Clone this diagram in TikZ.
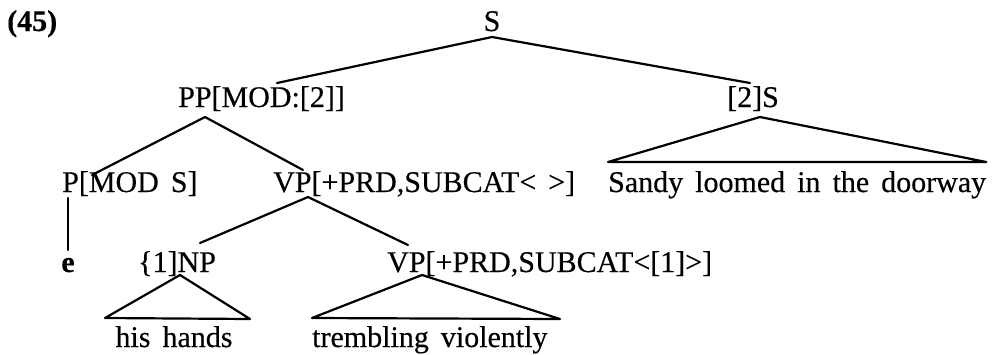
\documentclass[tikz,border=0pt]{standalone}
\usepackage{fontspec}
\setmainfont{Liberation Serif}[WordSpace=1.6,FakeBold=0.35]
\begin{document}
\begin{tikzpicture}[x=1pt,y=-1pt,
  lab/.style={inner sep=0pt,anchor=base west,font=\fontsize{30}{36}\selectfont},
  labc/.style={lab,anchor=base},
  boldlab/.style={labc,font=\fontsize{30}{36}\selectfont\bfseries},
  branch/.style={line width=2.2pt,line join=round,line cap=round}]
\useasboundingbox (0,0) rectangle (996,354);

% example number
\node[boldlab,anchor=base west] (num) at (7,31) {(45)};

% labels, placed by their baselines
\node[labc] (s) at (492,31) {S};
\node[lab] (pp) at (178,107) {PP[MOD:[2]]};
\node[lab] (s2) at (727,107) {[2]S};
\node[lab] (pmod) at (62,192) {P[MOD S]};
\node[lab] (vp) at (273,192) {VP[+PRD,SUBCAT\textless\ \textgreater]};
\node[lab] (sandy) at (608,192) {Sandy loomed in the doorway};
\node[boldlab] (e) at (68,272) {e};
\node[lab] (np) at (138,272) {\{1]NP};
\node[lab] (vp2) at (387,272) {VP[+PRD,SUBCAT\textless[1]\textgreater]};
\node[labc] (hands) at (174,347) {his hands};
\node[lab] (trem) at (312,347) {trembling violently};

% S
\draw[branch] ([xshift=23pt,yshift=24pt]s2.base west) -- ([yshift=-6pt]s.base)
  -- ([xshift=99pt,yshift=24pt]pp.base west);
% PP
\draw[branch] ([xshift=30pt,yshift=17pt]pmod.base west) -- ([xshift=27pt,yshift=-10pt]pp.base west)
  -- ([xshift=30pt,yshift=22pt]vp.base west);
% [2]S with its triangle over the clause
\draw[branch] ([yshift=30pt]sandy.base west) -- ([xshift=33pt,yshift=-10pt]s2.base west)
  -- ([xshift=0pt,yshift=30pt]sandy.base east) -- cycle;
% P -- e
\draw[branch] ([xshift=6pt,yshift=-6pt]pmod.base west) -- ([yshift=22pt]e.base);
% VP
\draw[branch] ([xshift=62pt,yshift=29pt]np.base west) -- ([xshift=35pt,yshift=-5pt]vp.base west)
  -- ([xshift=21pt,yshift=27pt]vp2.base west);
% NP triangle
\draw[branch] ([xshift=-33pt,yshift=-46pt]np.base west) -- ([xshift=42pt,yshift=-3pt]np.base west)
  -- ([xshift=112pt,yshift=-47pt]np.base west) -- cycle;
% lower VP triangle
\draw[branch] ([xshift=-75pt,yshift=-46pt]vp2.base west) -- ([xshift=35pt,yshift=-3pt]vp2.base west)
  -- ([xshift=173pt,yshift=-47pt]vp2.base west) -- cycle;
\end{tikzpicture}
\end{document}
